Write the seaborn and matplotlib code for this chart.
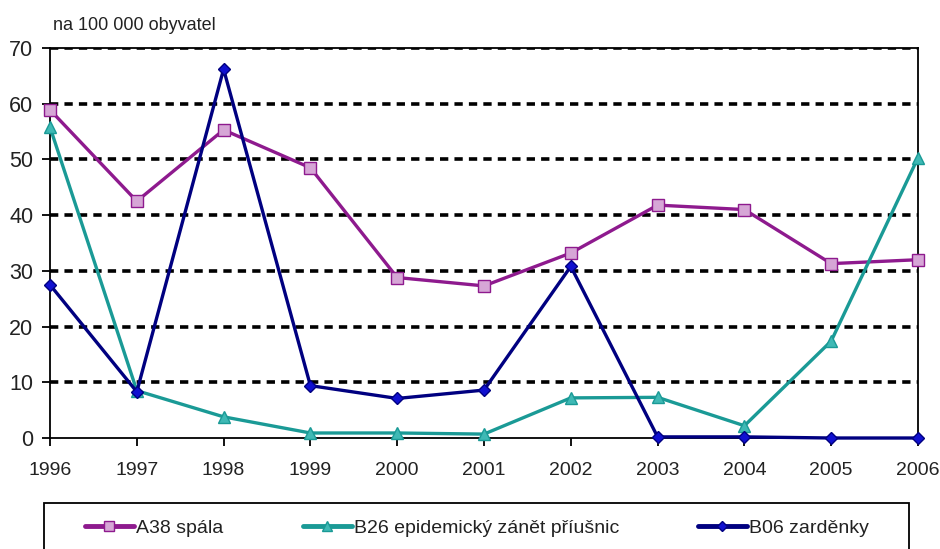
import matplotlib
matplotlib.use("Agg")
import matplotlib.pyplot as plt
from matplotlib.patches import Rectangle
import seaborn as sns
import pandas as pd

years = [1996, 1997, 1998, 1999, 2000, 2001, 2002, 2003, 2004, 2005, 2006]
spala = [58.9, 42.5, 55.3, 48.5, 28.8, 27.3, 33.2, 41.8, 41.0, 31.3, 32.0]
priusnice = [55.8, 8.5, 3.8, 0.9, 0.9, 0.7, 7.2, 7.3, 2.2, 17.4, 50.3]
zardenky = [27.5, 8.3, 66.2, 9.4, 7.1, 8.6, 30.8, 0.2, 0.2, 0.0, 0.0]
series_names = ["A38 spála", "B26 epidemický zánět příušnic", "B06 zarděnky"]
y_ticks = [0, 10, 20, 30, 40, 50, 60, 70]
unit_label = "na 100 000 obyvatel"

sns.set_theme(style="white")
plt.rcParams["font.family"] = ["Liberation Sans", "DejaVu Sans"]

W, H = 940, 549
fig = plt.figure(figsize=(W / 100, H / 100), dpi=100)
ax = fig.add_axes([50 / W, 1 - 438 / H, (918 - 50) / W, (438 - 48) / H])

# dotted horizontal grid drawn under the data
for yv in y_ticks[1:]:
    ax.axhline(yv, color="black", lw=2.6, ls=(0, (2.3, 1.7)), zorder=1)

styles = [
    dict(color="#8E1A8E", marker="s", mfc="#D6A6D6", mec="#8E1A8E", ms=8),
    dict(color="#1A9A96", marker="^", mfc="#3FB9B5", mec="#1A9A96", ms=8),
    dict(color="#000080", marker="D", mfc="#1010D0", mec="#000080", ms=6),
]
for name, vals, st in zip(series_names, [spala, priusnice, zardenky], styles):
    df = pd.DataFrame({"rok": years, "hodnota": vals})
    sns.lineplot(data=df, x="rok", y="hodnota", ax=ax, label=name,
                 color=st["color"], lw=2.4, marker=st["marker"],
                 markerfacecolor=st["mfc"], markeredgecolor=st["mec"],
                 markeredgewidth=1.0, markersize=st["ms"], zorder=3,
                 clip_on=False)

ax.set_xlim(years[0], years[-1])
ax.set_ylim(0, 70)
ax.set_xticks(years)
ax.set_yticks(y_ticks)
ax.set_xlabel("")
ax.set_ylabel("")
for s in ax.spines.values():
    s.set_color("black")
    s.set_linewidth(1.3)
ax.tick_params(axis="both", direction="out", length=6, width=1.3, color="black",
               labelcolor="#222222", left=True, bottom=True)
ax.tick_params(axis="x", pad=11, labelsize=14)
ax.tick_params(axis="y", pad=6, labelsize=15.5)
ax.get_legend().remove()

fig.text(53 / W, 1 - 25 / H, unit_label, fontsize=13, color="#222222",
         va="center", ha="left")

# legend box along the bottom edge
fig.patches.append(Rectangle((44 / W, -0.05), (909 - 44) / W, 1 - 503 / H + 0.05,
                             transform=fig.transFigure, fill=False,
                             edgecolor="black", lw=1.3))
handles, labels = ax.get_legend_handles_labels()
for h, lab, xpos in zip(handles, labels, [85, 303, 698]):
    leg = fig.legend([h], [lab], loc="center left",
                     bbox_to_anchor=(xpos / W, 1 - 528 / H), frameon=False,
                     fontsize=14, handlelength=2.5, handletextpad=0.1,
                     borderaxespad=0, borderpad=0, labelcolor="#222222")
    for ln in leg.get_lines():
        ln.set_linewidth(3.5)
        ln.set_markersize(ln.get_markersize() * 0.85)

fig.savefig("out.png", dpi=100)
